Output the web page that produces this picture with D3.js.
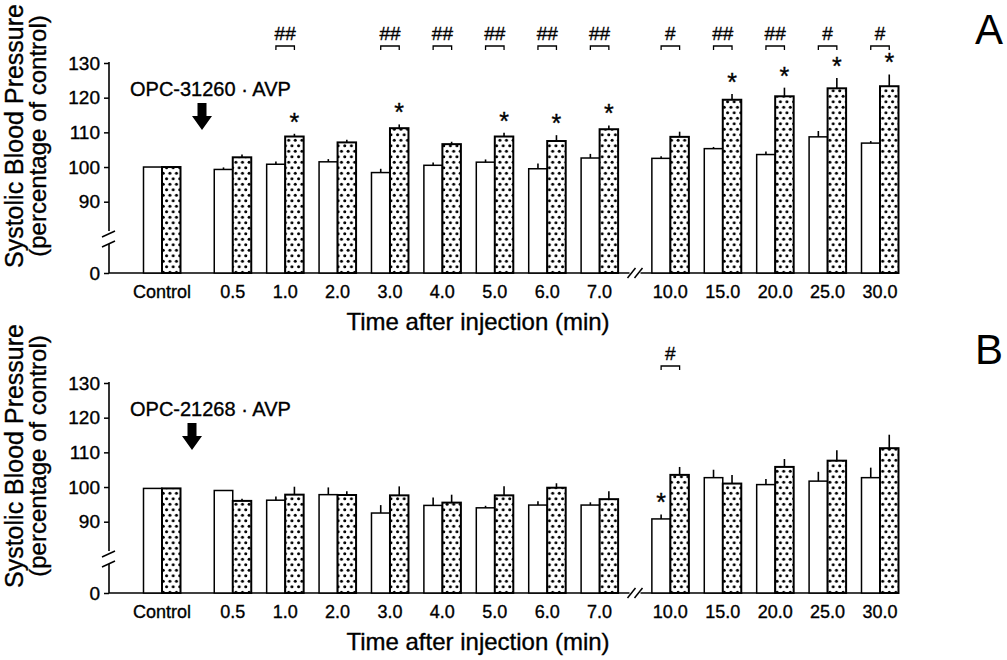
<!DOCTYPE html>
<html>
  <head>
    <meta charset="utf-8">
    <script src="https://d3js.org/d3.v7.min.js"></script>
    <style>
      body { margin: 0; background: #fff; }
      svg { display: block; font-family: "Liberation Sans", Arial, sans-serif; }
      svg text { stroke: #000; stroke-width: 0.35px; }
    </style>
  </head>
  <body>
    <svg id="chart" width="1007" height="660"></svg>
    <script>
      // time points (min)
      const categories = ['Control', '0.5', '1.0', '2.0', '3.0', '4.0', '5.0', '6.0', '7.0', '10.0', '15.0', '20.0', '25.0', '30.0']
      const yTicks = [0, 90, 100, 110, 120, 130]

      // panel A : OPC-31260 + AVP
      const aPlain = [100, 99.3, 100.8, 101.5, 98.4, 100.5, 101.4, 99.5, 102.6, 102.5, 105.3, 103.6, 108.7, 106.9]
      const aPlainErr = [0, 0.3, 0.5, 0.5, 0.8, 0.5, 0.5, 1.2, 0.9, 0.3, 0.2, 0.6, 1.4, 0.3]
      const aDotted = [100, 102.8, 108.8, 107.1, 111.2, 106.6, 108.8, 107.5, 110.9, 108.7, 119.4, 120.4, 122.7, 123.3]
      const aDottedErr = [0, 0.5, 0.5, 0.5, 0.8, 0.4, 0.8, 1.4, 0.8, 1.2, 1.4, 2.2, 2.7, 3.1]
      const aHash = ['', '', '##', '', '##', '##', '##', '##', '##', '#', '##', '##', '#', '#']
      const aStarDotted = [0, 0, 1, 0, 1, 0, 1, 1, 1, 0, 1, 1, 1, 1]
      const aStarPlain = [0, 0, 0, 0, 0, 0, 0, 0, 0, 0, 0, 0, 0, 0]

      // panel B : OPC-21268 + AVP
      const bPlain = [99.6, 99.0, 96.2, 97.8, 92.5, 94.7, 94.0, 94.8, 94.8, 90.8, 102.7, 100.7, 101.7, 102.7]
      const bPlainErr = [0, 0, 0.8, 1.8, 2.0, 2.0, 0.3, 0.8, 0.5, 1.0, 2.0, 1.3, 2.4, 2.6]
      const bDotted = [99.6, 96.0, 97.8, 97.7, 97.6, 95.5, 97.6, 99.8, 96.5, 103.5, 101.0, 105.8, 107.6, 111.2]
      const bDottedErr = [0, 0.3, 2.0, 0.8, 2.3, 2.0, 2.3, 1.0, 2.0, 2.0, 2.2, 2.0, 2.7, 3.6]
      const bHash = ['', '', '', '', '', '', '', '', '', '#', '', '', '', '']
      const bStarDotted = [0, 0, 0, 0, 0, 0, 0, 0, 0, 0, 0, 0, 0, 0]
      const bStarPlain = [0, 0, 0, 0, 0, 0, 0, 0, 0, 1, 0, 0, 0, 0]

      const svg = d3.select('#chart')
      svg.append('rect').attr('width', 1007).attr('height', 660).attr('fill', '#fff')

      const pat = svg.append('defs').append('pattern')
        .attr('id', 'dots').attr('patternUnits', 'userSpaceOnUse')
        .attr('width', 6.6).attr('height', 11)
      pat.append('rect').attr('width', 6.6).attr('height', 11).attr('fill', '#fff')
      pat.append('circle').attr('cx', 1.6).attr('cy', 2.7).attr('r', 1.5).attr('fill', '#000')
      pat.append('circle').attr('cx', 4.9).attr('cy', 8.2).attr('r', 1.5).attr('fill', '#000')

      // slot index with wider gaps after Control and at the axis break
      const slot = i => i + (i >= 1 ? 0.35 : 0) + (i >= 9 ? 0.35 : 0)
      const x = d3.scaleLinear().domain([0, slot(13)]).range([162, 880])
      const bw = 18.5
      const axisX = 109, axisEnd = 897

      function panel(top, o) {
        const g = svg.append('g').attr('transform', `translate(0,${top})`)
        // broken y scale: 0 sits at the baseline, 90-130 is the real range
        const y = d3.scaleLinear().domain([0, 90, 130]).range([273, 201.7, 63])
        const y0 = y(0)

        // y axis with ticks
        const ax = g.append('g').attr('transform', `translate(${axisX},0)`)
          .call(d3.axisLeft(y).tickValues(yTicks).tickSize(5).tickPadding(4))
        ax.select('.domain').remove()
        ax.selectAll('line').attr('stroke', '#000').attr('stroke-width', 1.5)
        ax.selectAll('text').attr('font-size', 19).attr('fill', '#000')
          .attr('font-family', '"Liberation Sans", Arial, sans-serif')

        // y axis line with break
        g.append('line').attr('x1', axisX).attr('x2', axisX).attr('y1', y(130) - 1).attr('y2', 231)
          .attr('stroke', '#000').attr('stroke-width', 1.6)
        g.append('line').attr('x1', axisX).attr('x2', axisX).attr('y1', 244).attr('y2', y0)
          .attr('stroke', '#000').attr('stroke-width', 1.6)
        ;[234, 244].forEach(yb => {
          g.append('line').attr('x1', axisX - 7).attr('y1', yb + 3).attr('x2', axisX + 6).attr('y2', yb - 3)
            .attr('stroke', '#000').attr('stroke-width', 1.5)
        })

        // x axis line with break between 7.0 and 10.0
        const xb = (x(slot(8)) + x(slot(9))) / 2 + 0.5
        g.append('line').attr('x1', axisX).attr('x2', xb - 6).attr('y1', y0).attr('y2', y0)
          .attr('stroke', '#000').attr('stroke-width', 1.6)
        g.append('line').attr('x1', xb + 5).attr('x2', axisEnd).attr('y1', y0).attr('y2', y0)
          .attr('stroke', '#000').attr('stroke-width', 1.6)
        ;[xb - 4, xb + 3].forEach(xx => {
          g.append('line').attr('x1', xx - 4).attr('y1', y0 + 5).attr('x2', xx + 4).attr('y2', y0 - 5)
            .attr('stroke', '#000').attr('stroke-width', 1.5)
        })

        const idx = d3.range(categories.length)

        // bars
        g.selectAll('.plain').data(idx).join('rect')
          .attr('x', i => x(slot(i)) - bw).attr('width', bw)
          .attr('y', i => y(o.plain[i])).attr('height', i => y0 - y(o.plain[i]))
          .attr('fill', '#fff').attr('stroke', '#000').attr('stroke-width', 1.5)
        g.selectAll('.dotted').data(idx).join('rect')
          .attr('x', i => x(slot(i))).attr('width', bw)
          .attr('y', i => y(o.dotted[i])).attr('height', i => y0 - y(o.dotted[i]))
          .attr('fill', 'url(#dots)').attr('stroke', '#000').attr('stroke-width', 2)

        // error bars (upper only)
        g.selectAll('.eplain').data(idx.filter(i => o.plainErr[i] > 0)).join('line')
          .attr('x1', i => x(slot(i)) - bw / 2).attr('x2', i => x(slot(i)) - bw / 2)
          .attr('y1', i => y(o.plain[i])).attr('y2', i => y(o.plain[i] + o.plainErr[i]) - 1)
          .attr('stroke', '#000').attr('stroke-width', 1.6)
        g.selectAll('.edotted').data(idx.filter(i => o.dottedErr[i] > 0)).join('line')
          .attr('x1', i => x(slot(i)) + bw / 2).attr('x2', i => x(slot(i)) + bw / 2)
          .attr('y1', i => y(o.dotted[i])).attr('y2', i => y(o.dotted[i] + o.dottedErr[i]) - 1)
          .attr('stroke', '#000').attr('stroke-width', 1.6)

        // asterisks
        g.selectAll('.sd').data(idx.filter(i => o.starDotted[i])).join('text')
          .attr('x', i => x(slot(i)) + bw / 2).attr('y', i => y(o.dotted[i] + o.dottedErr[i]) - 4)
          .attr('text-anchor', 'middle').attr('font-size', 25).text('*')
        g.selectAll('.sp').data(idx.filter(i => o.starPlain[i])).join('text')
          .attr('x', i => x(slot(i)) - bw / 2).attr('y', i => y(o.plain[i] + o.plainErr[i]) - 4)
          .attr('text-anchor', 'middle').attr('font-size', 25).text('*')

        // # brackets
        const hi = idx.filter(i => o.hash[i])
        g.selectAll('.br').data(hi).join('path')
          .attr('d', i => {
            const x1 = x(slot(i)) - bw / 2, x2 = x(slot(i)) + bw / 2
            return `M${x1},50V46H${x2}V50`
          })
          .attr('fill', 'none').attr('stroke', '#000').attr('stroke-width', 1.3)
        g.selectAll('.hs').data(hi).join('text')
          .attr('x', i => x(slot(i))).attr('y', 40)
          .attr('text-anchor', 'middle').attr('font-size', 19).text(i => o.hash[i])

        // x labels
        g.selectAll('.xl').data(idx).join('text')
          .attr('x', i => x(slot(i))).attr('y', 298)
          .attr('text-anchor', 'middle').attr('font-size', 18).text(i => categories[i])

        g.append('text').attr('x', 478).attr('y', 330).attr('text-anchor', 'middle')
          .attr('font-size', 24).text('Time after injection (min)')

        // y title
        g.append('text').attr('transform', 'translate(23,136) rotate(-90)')
          .attr('text-anchor', 'middle').attr('font-size', 25).text('Systolic Blood Pressure')
        g.append('text').attr('transform', 'translate(46,136) rotate(-90)')
          .attr('text-anchor', 'middle').attr('font-size', 24).text('(percentage of control)')

        // drug label and arrow
        g.append('text').attr('x', 130).attr('y', 96).attr('font-size', 20).text(o.label)
        const ax0 = o.arrowX
        g.append('path')
          .attr('d', `M${ax0 - 4.5},103H${ax0 + 4.5}V116H${ax0 + 10}L${ax0},130L${ax0 - 10},116H${ax0 - 4.5}Z`)
          .attr('fill', '#000')

        g.append('text').attr('x', 989).attr('y', 44).attr('text-anchor', 'middle')
          .attr('font-size', 42).style('stroke-width', 0).text(o.letter)
      }

      panel(0, {
        plain: aPlain, plainErr: aPlainErr, dotted: aDotted, dottedErr: aDottedErr,
        hash: aHash, starDotted: aStarDotted, starPlain: aStarPlain,
        label: 'OPC-31260 · AVP', arrowX: 202, letter: 'A'
      })
      panel(320, {
        plain: bPlain, plainErr: bPlainErr, dotted: bDotted, dottedErr: bDottedErr,
        hash: bHash, starDotted: bStarDotted, starPlain: bStarPlain,
        label: 'OPC-21268 · AVP', arrowX: 192, letter: 'B'
      })
    </script>
  </body>
</html>
